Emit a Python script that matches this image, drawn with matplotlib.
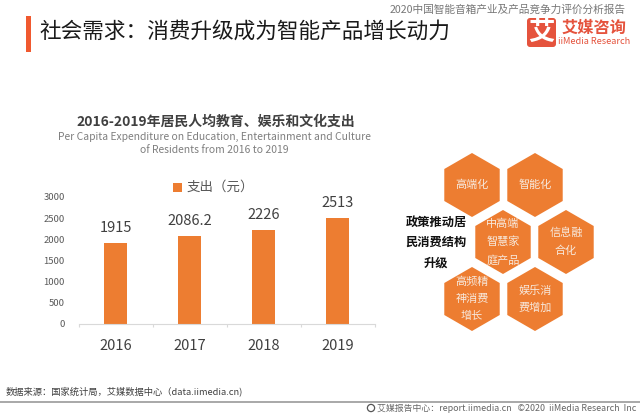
#!/usr/bin/env python3
import matplotlib
matplotlib.use("Agg")
import matplotlib.pyplot as plt
from matplotlib.patches import Polygon, Rectangle, FancyBboxPatch, Circle
import numpy as np

plt.rcParams['font.family'] = ['Noto Sans CJK SC', 'DejaVu Sans']

years = ["2016", "2017", "2018", "2019"]
spending = [1915, 2086.2, 2226, 2513]
bar_labels = ["1915", "2086.2", "2226", "2513"]
y_ticks = [0, 500, 1000, 1500, 2000, 2500, 3000]

hex_centers = [(472, 185), (535, 185), (503, 242), (566, 242), (472, 299), (535, 299)]
hex_texts = ["高端化", "智能化", "中高端\n智慧家\n庭产品", "信息融\n合化", "高频精\n神消费\n增长", "娱乐消\n费增加"]

ORANGE = "#ED7D31"

fig = plt.figure(figsize=(6.4, 4.16), dpi=100)

# overlay in pixel coords for the slide furniture
bg = fig.add_axes([0, 0, 1, 1])
bg.set_xlim(0, 640)
bg.set_ylim(416, 0)
bg.axis("off")

# header
bg.add_patch(Rectangle((25.5, 16), 5.5, 36, color="#F0592F", lw=0))
bg.text(39, 32, "社会需求：消费升级成为智能产品增长动力", fontsize=15.6, color="#1a1a1a", va="center", weight="medium")
bg.text(626, 10, "2020中国智能音箱产业及产品竞争力评价分析报告", fontsize=7.7, color="#777777", ha="right", va="center")

# logo
bg.add_patch(FancyBboxPatch((527, 18), 29, 29, boxstyle="round,pad=0,rounding_size=3", color="#E5533D", lw=0))
bg.text(541.5, 32, "艾", fontsize=19, color="white", ha="center", va="center", weight="bold")
bg.text(594.5, 28, "艾媒咨询", fontsize=11.7, color="#E5533D", ha="center", va="center", weight="bold")
bg.text(594.5, 42, "iiMedia Research", fontsize=6.6, color="#E5533D", ha="center", va="center", weight="medium")

# chart titles
bg.text(216, 122, "2016-2019年居民人均教育、娱乐和文化支出", fontsize=10, color="#404040", ha="center", va="center", weight="bold")
bg.text(214, 137, "Per Capita Expenditure on Education, Entertainment and Culture", fontsize=7.45, color="#7f7f7f", ha="center", va="center")
bg.text(214, 150, "of Residents from 2016 to 2019", fontsize=7.45, color="#7f7f7f", ha="center", va="center")

# legend
bg.add_patch(Rectangle((173, 183), 9, 9, color=ORANGE, lw=0))
bg.text(187, 187, "支出（元）", fontsize=9.7, color="#595959", va="center")

# bar chart
ax = fig.add_axes([78.5 / 640, 1 - 323.5 / 416, 296 / 640, 126.5 / 416], facecolor="none")
x = np.arange(len(years))
ax.bar(x, spending, width=0.315, color=ORANGE)
for xi, v, lab in zip(x, spending, bar_labels):
    ax.text(xi, v + 175, lab, ha="center", va="bottom", fontsize=10.5, color="#404040")
ax.set_xlim(-0.5, 3.5)
ax.set_ylim(0, 3000)
ax.set_yticks(y_ticks)
ax.set_xticks(x, years)
ax.set_xticks([-0.5, 0.5, 1.5, 2.5, 3.5], minor=True)
ax.tick_params(axis="y", length=0, labelsize=6.8, labelcolor="#595959", pad=10)
ax.tick_params(axis="x", which="major", length=0, labelsize=10.5, labelcolor="#404040", pad=11)
ax.tick_params(axis="x", which="minor", length=2, color="#D9D9D9", width=0.8)
for s in ["top", "right", "left"]:
    ax.spines[s].set_visible(False)
ax.spines["bottom"].set_color("#D9D9D9")

# hexagons
angles = np.deg2rad(np.arange(6) * 60 + 30)
for (cx, cy), txt in zip(hex_centers, hex_texts):
    pts = np.column_stack([cx + 32 * np.cos(angles), cy + 32 * np.sin(angles)])
    bg.add_patch(Polygon(pts, closed=True, color=ORANGE, lw=0))
    bg.text(cx, cy, txt, fontsize=8, color="#F7E9DD", ha="center", va="center", linespacing=1.85)

bg.text(436, 242.5, "政策推动居\n民消费结构\n升级", fontsize=8.8, color="#111111", ha="center", va="center", weight="bold", linespacing=1.72)

# footer
bg.text(6, 391, "数据来源：国家统计局，艾媒数据中心（data.iimedia.cn)", fontsize=6.7, color="#404040", va="center", weight="medium")
bg.plot([0, 640], [401.5, 401.5], color="#999999", lw=1.2)
bg.add_patch(Circle((371, 408), 3.6, fill=False, ec="#555555", lw=0.9))
bg.text(636, 408, "艾媒报告中心：report.iimedia.cn   ©2020  iiMedia Research  Inc", fontsize=6.4, color="#666666", ha="right", va="center")

fig.savefig("out.png", dpi=100)
